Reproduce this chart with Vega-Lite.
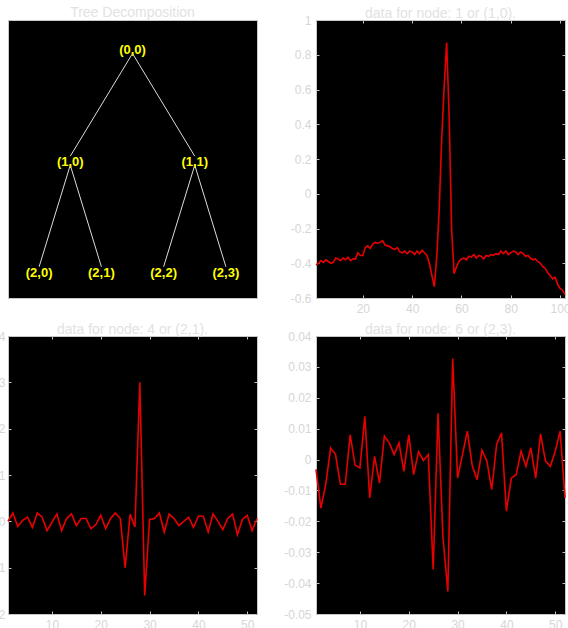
{
  "$schema": "https://vega.github.io/schema/vega-lite/v6.json",
  "autosize": {"type": "none"},
  "padding": {"left": 8, "top": 20, "right": 560, "bottom": 608},
  "background": "white",
  "columns": 2,
  "spacing": {"row": 38, "column": 59},
  "bounds": "flush",
  "config": {
    "view": {"fill": "black", "stroke": "#c8c8c8", "strokeWidth": 1},
    "axis": {"domain": false, "grid": false, "tickColor": "#c0c0c0", "tickSize": -3, "tickWidth": 1, "labelColor": "#d6d6d6", "labelFont": "Liberation Sans", "labelFontSize": 12, "labelPadding": 8},
    "title": {"color": "#e2e2e2", "font": "Liberation Sans", "fontSize": 14, "fontWeight": "normal", "offset": 0},
    "line": {"stroke": "#e80000", "strokeWidth": 1.6, "clip": true}
  },
  "datasets": {
    "nodes": [
      {"label": "(0,0)", "nx": 0.5, "depth": 0},
      {"label": "(1,0)", "nx": 0.25, "depth": 1},
      {"label": "(1,1)", "nx": 0.75, "depth": 1},
      {"label": "(2,0)", "nx": 0.125, "depth": 2},
      {"label": "(2,1)", "nx": 0.375, "depth": 2},
      {"label": "(2,2)", "nx": 0.625, "depth": 2},
      {"label": "(2,3)", "nx": 0.875, "depth": 2}
    ],
    "edges": [
      {"x1": 0.5, "y1": 0.03, "x2": 0.25, "y2": 0.95},
      {"x1": 0.5, "y1": 0.03, "x2": 0.75, "y2": 0.95},
      {"x1": 0.25, "y1": 1.03, "x2": 0.125, "y2": 1.94},
      {"x1": 0.25, "y1": 1.03, "x2": 0.375, "y2": 1.94},
      {"x1": 0.75, "y1": 1.03, "x2": 0.625, "y2": 1.94},
      {"x1": 0.75, "y1": 1.03, "x2": 0.875, "y2": 1.94}
    ],
    "n1": [
      {"x": 1, "v": -0.41}, {"x": 2, "v": -0.4}, {"x": 3, "v": -0.385}, {"x": 4, "v": -0.395}, {"x": 5, "v": -0.38},
      {"x": 6, "v": -0.39}, {"x": 7, "v": -0.4}, {"x": 8, "v": -0.395}, {"x": 9, "v": -0.37}, {"x": 10, "v": -0.375},
      {"x": 11, "v": -0.385}, {"x": 12, "v": -0.37}, {"x": 13, "v": -0.38}, {"x": 14, "v": -0.365}, {"x": 15, "v": -0.385},
      {"x": 16, "v": -0.375}, {"x": 17, "v": -0.375}, {"x": 18, "v": -0.34}, {"x": 19, "v": -0.355}, {"x": 20, "v": -0.355},
      {"x": 21, "v": -0.31}, {"x": 22, "v": -0.3}, {"x": 23, "v": -0.315}, {"x": 24, "v": -0.29}, {"x": 25, "v": -0.28},
      {"x": 26, "v": -0.285}, {"x": 27, "v": -0.28}, {"x": 28, "v": -0.27}, {"x": 29, "v": -0.295}, {"x": 30, "v": -0.3},
      {"x": 31, "v": -0.305}, {"x": 32, "v": -0.315}, {"x": 33, "v": -0.32}, {"x": 34, "v": -0.31}, {"x": 35, "v": -0.335},
      {"x": 36, "v": -0.34}, {"x": 37, "v": -0.33}, {"x": 38, "v": -0.345}, {"x": 39, "v": -0.33}, {"x": 40, "v": -0.335},
      {"x": 41, "v": -0.35}, {"x": 42, "v": -0.33}, {"x": 43, "v": -0.345}, {"x": 44, "v": -0.325}, {"x": 45, "v": -0.34},
      {"x": 46, "v": -0.355}, {"x": 47, "v": -0.4}, {"x": 48, "v": -0.47}, {"x": 49, "v": -0.535}, {"x": 50, "v": -0.36},
      {"x": 51, "v": -0.08}, {"x": 52, "v": 0.32}, {"x": 53, "v": 0.62}, {"x": 54, "v": 0.87}, {"x": 55, "v": 0.45},
      {"x": 56, "v": -0.2}, {"x": 57, "v": -0.46}, {"x": 58, "v": -0.42}, {"x": 59, "v": -0.39}, {"x": 60, "v": -0.375},
      {"x": 61, "v": -0.37}, {"x": 62, "v": -0.38}, {"x": 63, "v": -0.36}, {"x": 64, "v": -0.365}, {"x": 65, "v": -0.35},
      {"x": 66, "v": -0.37}, {"x": 67, "v": -0.355}, {"x": 68, "v": -0.36}, {"x": 69, "v": -0.375}, {"x": 70, "v": -0.355},
      {"x": 71, "v": -0.36}, {"x": 72, "v": -0.35}, {"x": 73, "v": -0.355}, {"x": 74, "v": -0.345}, {"x": 75, "v": -0.35},
      {"x": 76, "v": -0.33}, {"x": 77, "v": -0.345}, {"x": 78, "v": -0.33}, {"x": 79, "v": -0.35}, {"x": 80, "v": -0.34},
      {"x": 81, "v": -0.33}, {"x": 82, "v": -0.335}, {"x": 83, "v": -0.35}, {"x": 84, "v": -0.335}, {"x": 85, "v": -0.345},
      {"x": 86, "v": -0.36}, {"x": 87, "v": -0.355}, {"x": 88, "v": -0.37}, {"x": 89, "v": -0.38}, {"x": 90, "v": -0.375},
      {"x": 91, "v": -0.39}, {"x": 92, "v": -0.4}, {"x": 93, "v": -0.42}, {"x": 94, "v": -0.43}, {"x": 95, "v": -0.455},
      {"x": 96, "v": -0.47}, {"x": 97, "v": -0.49}, {"x": 98, "v": -0.48}, {"x": 99, "v": -0.52}, {"x": 100, "v": -0.545},
      {"x": 101, "v": -0.555}, {"x": 102, "v": -0.58}
    ],
    "n4": [
      {"x": 1, "v": 0.0}, {"x": 2, "v": 0.018}, {"x": 3, "v": -0.011}, {"x": 4, "v": 0.002}, {"x": 5, "v": 0.009},
      {"x": 6, "v": -0.013}, {"x": 7, "v": 0.018}, {"x": 8, "v": 0.009}, {"x": 9, "v": -0.02}, {"x": 10, "v": -0.002},
      {"x": 11, "v": 0.016}, {"x": 12, "v": -0.02}, {"x": 13, "v": 0.006}, {"x": 14, "v": 0.016}, {"x": 15, "v": -0.009},
      {"x": 16, "v": 0.006}, {"x": 17, "v": 0.006}, {"x": 18, "v": -0.016}, {"x": 19, "v": -0.007}, {"x": 20, "v": 0.013},
      {"x": 21, "v": -0.016}, {"x": 22, "v": 0.006}, {"x": 23, "v": 0.018}, {"x": 24, "v": 0.006}, {"x": 25, "v": -0.1},
      {"x": 26, "v": 0.015}, {"x": 27, "v": -0.012}, {"x": 28, "v": 0.3}, {"x": 29, "v": -0.16}, {"x": 30, "v": 0.004},
      {"x": 31, "v": 0.006}, {"x": 32, "v": 0.018}, {"x": 33, "v": -0.023}, {"x": 34, "v": 0.016}, {"x": 35, "v": 0.006},
      {"x": 36, "v": -0.009}, {"x": 37, "v": 0.0}, {"x": 38, "v": 0.009}, {"x": 39, "v": -0.013}, {"x": 40, "v": 0.011},
      {"x": 41, "v": 0.011}, {"x": 42, "v": -0.023}, {"x": 43, "v": 0.016}, {"x": 44, "v": 0.0}, {"x": 45, "v": -0.018},
      {"x": 46, "v": 0.006}, {"x": 47, "v": 0.016}, {"x": 48, "v": -0.029}, {"x": 49, "v": 0.004}, {"x": 50, "v": 0.013},
      {"x": 51, "v": -0.02}, {"x": 52, "v": 0.006}
    ],
    "n6": [
      {"x": 1, "v": -0.0032}, {"x": 2, "v": -0.0157}, {"x": 3, "v": -0.008}, {"x": 4, "v": 0.0038}, {"x": 5, "v": 0.0016},
      {"x": 6, "v": -0.008}, {"x": 7, "v": -0.008}, {"x": 8, "v": 0.008}, {"x": 9, "v": -0.0018}, {"x": 10, "v": -0.0027},
      {"x": 11, "v": 0.014}, {"x": 12, "v": -0.0124}, {"x": 13, "v": 0.001}, {"x": 14, "v": -0.0076}, {"x": 15, "v": 0.0076},
      {"x": 16, "v": 0.0054}, {"x": 17, "v": 0.0016}, {"x": 18, "v": 0.0054}, {"x": 19, "v": -0.0038}, {"x": 20, "v": 0.008},
      {"x": 21, "v": -0.0049}, {"x": 22, "v": 0.0025}, {"x": 23, "v": -0.0003}, {"x": 24, "v": 0.0016}, {"x": 25, "v": -0.0356},
      {"x": 26, "v": 0.015}, {"x": 27, "v": -0.025}, {"x": 28, "v": -0.0427}, {"x": 29, "v": 0.0327}, {"x": 30, "v": -0.006},
      {"x": 31, "v": 0.0016}, {"x": 32, "v": 0.0092}, {"x": 33, "v": -0.002}, {"x": 34, "v": -0.0065}, {"x": 35, "v": 0.003},
      {"x": 36, "v": -0.0005}, {"x": 37, "v": -0.0097}, {"x": 38, "v": 0.005}, {"x": 39, "v": 0.0086}, {"x": 40, "v": -0.0167},
      {"x": 41, "v": -0.006}, {"x": 42, "v": -0.0049}, {"x": 43, "v": 0.0027}, {"x": 44, "v": -0.0022}, {"x": 45, "v": 0.0038},
      {"x": 46, "v": -0.006}, {"x": 47, "v": 0.0083}, {"x": 48, "v": -0.0005}, {"x": 49, "v": -0.0022}, {"x": 50, "v": 0.0027},
      {"x": 51, "v": 0.0092}, {"x": 52, "v": -0.0124}
    ]
  },
  "concat": [
    {
      "width": 249, "height": 278,
      "title": {"text": "Tree Decomposition", "offset": 0},
      "layer": [
        {
          "data": {"name": "edges"},
          "mark": {"type": "rule", "color": "#dcdcdc", "strokeWidth": 1},
          "encoding": {
            "x": {"field": "x1", "type": "quantitative", "scale": {"domain": [0, 1], "nice": false, "zero": false}, "axis": null},
            "y": {"field": "y1", "type": "quantitative", "scale": {"domain": [-0.27, 2.22], "nice": false, "zero": false, "reverse": true}, "axis": null},
            "x2": {"field": "x2"},
            "y2": {"field": "y2"}
          }
        },
        {
          "data": {"name": "nodes"},
          "mark": {"type": "text", "color": "#ffff00", "font": "Liberation Sans", "fontWeight": "bold", "fontSize": 13, "baseline": "middle", "align": "center"},
          "encoding": {
            "x": {"field": "nx", "type": "quantitative", "axis": null},
            "y": {"field": "depth", "type": "quantitative", "axis": null},
            "text": {"field": "label"}
          }
        }
      ]
    },
    {
      "width": 249, "height": 278,
      "title": {"text": "data for node: 1 or (1,0).", "offset": -7},
      "data": {"name": "n1"},
      "layer": [
        {
          "mark": {"type": "line"},
          "encoding": {
            "x": {"field": "x", "type": "quantitative", "scale": {"domain": [1, 102], "nice": false, "zero": false}, "axis": {"title": null, "values": [20, 40, 60, 80, 100]}},
            "y": {"field": "v", "type": "quantitative", "scale": {"domain": [-0.6, 1], "nice": false, "zero": false}, "axis": {"title": null, "values": [-0.6, -0.4, -0.2, 0, 0.2, 0.4, 0.6, 0.8, 1], "labelExpr": "datum.value < 0 ? '-' + format(-datum.value, '~g') : format(datum.value, '~g')"}}
          }
        },
        {
          "mark": {"type": "line", "opacity": 0},
          "encoding": {
            "x": {"field": "x", "type": "quantitative", "axis": {"title": null, "orient": "top", "labels": false, "values": [20, 40, 60, 80, 100]}},
            "y": {"field": "v", "type": "quantitative", "axis": {"title": null, "orient": "right", "labels": false, "values": [-0.6, -0.4, -0.2, 0, 0.2, 0.4, 0.6, 0.8, 1]}}
          }
        }
      ],
      "resolve": {"axis": {"x": "independent", "y": "independent"}}
    },
    {
      "width": 249, "height": 278,
      "title": {"text": "data for node: 4 or (2,1).", "offset": -7},
      "data": {"name": "n4"},
      "layer": [
        {
          "mark": {"type": "line"},
          "encoding": {
            "x": {"field": "x", "type": "quantitative", "scale": {"domain": [1, 52], "nice": false, "zero": false}, "axis": {"title": null, "values": [10, 20, 30, 40, 50]}},
            "y": {"field": "v", "type": "quantitative", "scale": {"domain": [-0.2, 0.4], "nice": false, "zero": false}, "axis": {"title": null, "labelPadding": 6, "values": [-0.2, -0.1, 0, 0.1, 0.2, 0.3, 0.4], "labelExpr": "datum.value < 0 ? '-' + format(-datum.value, '~g') : format(datum.value, '~g')"}}
          }
        },
        {
          "mark": {"type": "line", "opacity": 0},
          "encoding": {
            "x": {"field": "x", "type": "quantitative", "axis": {"title": null, "orient": "top", "labels": false, "values": [10, 20, 30, 40, 50]}},
            "y": {"field": "v", "type": "quantitative", "axis": {"title": null, "orient": "right", "labels": false, "values": [-0.2, -0.1, 0, 0.1, 0.2, 0.3, 0.4]}}
          }
        }
      ],
      "resolve": {"axis": {"x": "independent", "y": "independent"}}
    },
    {
      "width": 249, "height": 278,
      "title": {"text": "data for node: 6 or (2,3).", "offset": -7},
      "data": {"name": "n6"},
      "layer": [
        {
          "mark": {"type": "line"},
          "encoding": {
            "x": {"field": "x", "type": "quantitative", "scale": {"domain": [1, 52], "nice": false, "zero": false}, "axis": {"title": null, "values": [10, 20, 30, 40, 50]}},
            "y": {"field": "v", "type": "quantitative", "scale": {"domain": [-0.05, 0.04], "nice": false, "zero": false}, "axis": {"title": null, "values": [-0.05, -0.04, -0.03, -0.02, -0.01, 0, 0.01, 0.02, 0.03, 0.04], "labelExpr": "datum.value < 0 ? '-' + format(-datum.value, '~g') : format(datum.value, '~g')"}}
          }
        },
        {
          "mark": {"type": "line", "opacity": 0},
          "encoding": {
            "x": {"field": "x", "type": "quantitative", "axis": {"title": null, "orient": "top", "labels": false, "values": [10, 20, 30, 40, 50]}},
            "y": {"field": "v", "type": "quantitative", "axis": {"title": null, "orient": "right", "labels": false, "values": [-0.05, -0.04, -0.03, -0.02, -0.01, 0, 0.01, 0.02, 0.03, 0.04]}}
          }
        }
      ],
      "resolve": {"axis": {"x": "independent", "y": "independent"}}
    }
  ]
}
